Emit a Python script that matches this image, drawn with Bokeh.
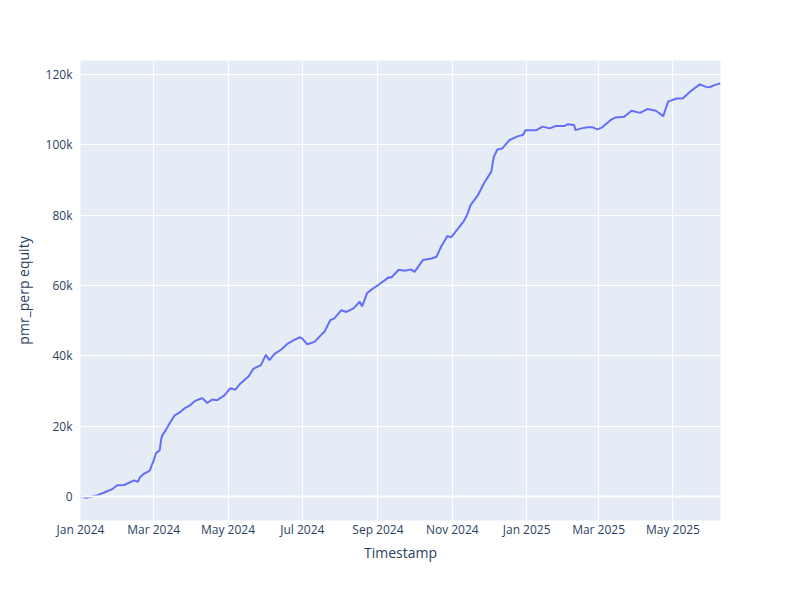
from datetime import datetime
from bokeh.plotting import figure
from bokeh.models import (ColumnDataSource, FixedTicker, CustomJSTickFormatter,
                          DatetimeTickFormatter, Span, Range1d)
from bokeh.embed import file_html
from bokeh.resources import INLINE

dates = [
    "2024-01-01", "2024-01-06", "2024-01-09", "2024-01-15", "2024-01-20", "2024-01-27",
    "2024-01-31", "2024-02-06", "2024-02-14", "2024-02-17", "2024-02-19", "2024-02-22",
    "2024-02-25", "2024-02-27", "2024-02-29", "2024-03-01", "2024-03-03", "2024-03-06",
    "2024-03-07", "2024-03-08", "2024-03-11", "2024-03-14", "2024-03-18", "2024-03-23",
    "2024-03-26", "2024-03-31", "2024-04-02", "2024-04-04", "2024-04-09", "2024-04-10",
    "2024-04-14", "2024-04-18", "2024-04-22", "2024-04-28", "2024-05-03", "2024-05-07",
    "2024-05-11", "2024-05-18", "2024-05-22", "2024-05-28", "2024-06-01", "2024-06-04",
    "2024-06-08", "2024-06-14", "2024-06-19", "2024-06-24", "2024-06-29", "2024-07-01",
    "2024-07-05", "2024-07-11", "2024-07-17", "2024-07-19", "2024-07-24", "2024-07-27",
    "2024-08-02", "2024-08-06", "2024-08-12", "2024-08-17", "2024-08-19", "2024-08-23",
    "2024-08-26", "2024-09-01", "2024-09-10", "2024-09-12", "2024-09-18", "2024-09-23",
    "2024-09-28", "2024-10-01", "2024-10-08", "2024-10-15", "2024-10-19", "2024-10-23",
    "2024-10-28", "2024-10-31", "2024-11-10", "2024-11-13", "2024-11-16", "2024-11-22",
    "2024-11-27", "2024-12-03", "2024-12-05", "2024-12-08", "2024-12-12", "2024-12-18",
    "2024-12-25", "2024-12-29", "2024-12-31", "2025-01-09", "2025-01-14", "2025-01-20",
    "2025-01-25", "2025-02-01", "2025-02-04", "2025-02-06", "2025-02-09", "2025-02-10",
    "2025-02-15", "2025-02-20", "2025-02-24", "2025-02-28", "2025-03-04", "2025-03-11",
    "2025-03-15", "2025-03-22", "2025-03-28", "2025-04-04", "2025-04-10", "2025-04-17",
    "2025-04-23", "2025-04-27", "2025-05-04", "2025-05-09", "2025-05-15", "2025-05-23",
    "2025-05-28", "2025-05-31", "2025-06-04", "2025-06-09",
]
equity = [
    0, -300, -100, 400, 1100, 2100,
    3200, 3300, 4600, 4200, 5600, 6500,
    7000, 7500, 9400, 10300, 12400, 13200,
    16000, 17400, 18900, 20800, 23000, 24100,
    25000, 26000, 26600, 27200, 27900, 28000,
    26600, 27600, 27400, 28800, 30800, 30400,
    32100, 34200, 36400, 37400, 40300, 38800,
    40500, 41900, 43500, 44500, 45300, 44900,
    43300, 44000, 46200, 46800, 50200, 50600,
    53000, 52500, 53500, 55400, 54100, 57800,
    58700, 60100, 62400, 62300, 64500, 64200,
    64600, 63900, 67300, 67700, 68200, 71200,
    74100, 73700, 78100, 80000, 82900, 85700,
    89100, 92400, 96600, 98700, 99000, 101400,
    102500, 102800, 104200, 104200, 105200, 104700,
    105400, 105400, 105900, 105800, 105600, 104200,
    104700, 105000, 105000, 104400, 105000, 107100,
    107800, 108000, 109700, 109100, 110200, 109700,
    108200, 112300, 113200, 113200, 115100, 117200,
    116500, 116400, 117000, 117500,
]
y_ticks = [0, 20000, 40000, 60000, 80000, 100000, 120000]
x_tick_dates = ["2024-01-01", "2024-03-01", "2024-05-01", "2024-07-01", "2024-09-01",
                "2024-11-01", "2025-01-01", "2025-03-01", "2025-05-01"]


def ms(s):
    return (datetime.strptime(s, "%Y-%m-%d") - datetime(1970, 1, 1)).total_seconds() * 1000.0


xs = [datetime.strptime(d, "%Y-%m-%d") for d in dates]
src = ColumnDataSource(dict(x=xs, y=equity))

p = figure(x_axis_type="datetime", output_backend="svg", toolbar_location=None,
           frame_width=640, frame_height=460,
           min_border_left=80, min_border_right=72, min_border_top=60, min_border_bottom=60,
           x_range=Range1d(xs[0], xs[-1]), y_range=Range1d(-6800, 124000))
p.background_fill_color = "#E5ECF6"
p.border_fill_color = "white"
p.outline_line_color = None

p.line("x", "y", source=src, line_color="#636efa", line_width=2)

p.add_layout(Span(location=0, dimension="width", line_color="white", line_width=2))

p.xgrid.ticker = FixedTicker(ticks=[ms(d) for d in x_tick_dates])
p.xaxis.ticker = FixedTicker(ticks=[ms(d) for d in x_tick_dates])
p.xaxis.formatter = DatetimeTickFormatter(months="%b %Y", days="%b %Y", years="%b %Y")
p.yaxis.ticker = FixedTicker(ticks=y_ticks)
p.ygrid.ticker = FixedTicker(ticks=y_ticks)
p.yaxis.formatter = CustomJSTickFormatter(code="return tick == 0 ? '0' : (tick/1000) + 'k';")

for g in (p.xgrid, p.ygrid):
    g.grid_line_color = "white"
    g.grid_line_width = 1

for ax in (p.xaxis, p.yaxis):
    ax.axis_line_color = None
    ax.major_tick_line_color = None
    ax.minor_tick_line_color = None
    ax.major_tick_out = 0
    ax.major_tick_in = 0
    ax.minor_tick_out = 0
    ax.minor_tick_in = 0
    ax.major_label_text_color = "#2a3f5f"
    ax.major_label_text_font = "Open Sans"
    ax.major_label_text_font_size = "12px"
    ax.axis_label_text_color = "#2a3f5f"
    ax.axis_label_text_font = "Open Sans"
    ax.axis_label_text_font_size = "14px"
    ax.axis_label_text_font_style = "normal"

p.xaxis.axis_label = "Timestamp"
p.yaxis.axis_label = "pmr_perp equity"
p.xaxis.major_label_standoff = 0
p.xaxis.axis_label_standoff = 2
p.yaxis.major_label_standoff = 8
p.yaxis.axis_label_standoff = 10

open("out.html", "w").write(file_html(p, INLINE))
